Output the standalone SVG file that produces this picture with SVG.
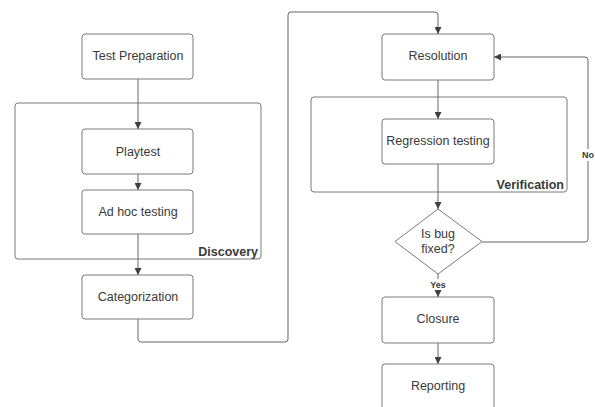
<svg xmlns="http://www.w3.org/2000/svg" width="595" height="407" viewBox="0 0 595 407">
<defs>
<style>
.box{fill:#fff;stroke:#7a7a7a;stroke-width:1}
.grp{fill:none;stroke:#7a7a7a;stroke-width:1}
.t{font-family:"Liberation Sans",Arial,sans-serif;font-size:12.5px;fill:#3a3a3a;text-anchor:middle}
.b{font-family:"Liberation Sans",Arial,sans-serif;font-size:12.5px;font-weight:bold;fill:#3a3a3a;text-anchor:end}
.s{font-family:"Liberation Sans",Arial,sans-serif;font-size:9px;font-weight:bold;fill:#3a3a3a;text-anchor:middle}
.c{fill:none;stroke:#666;stroke-width:1}
</style>
<marker id="ah" viewBox="0 0 10 10" refX="10" refY="5" markerWidth="7" markerHeight="7" orient="auto" markerUnits="userSpaceOnUse">
<path d="M0,0 L10,5 L0,10 z" fill="#3a3f4a"/>
</marker>
</defs>
<rect width="595" height="407" fill="#fff"/>
<g id="discovery"><rect class="grp" x="15" y="103" width="246" height="156" rx="3"/><text class="b" x="258" y="256">Discovery</text></g>
<g id="verification"><rect class="grp" x="311" y="97" width="256" height="95" rx="3"/><text class="b" x="564" y="189">Verification</text></g>
<g id="connectors">
<path class="c" d="M138,79 V129" marker-end="url(#ah)"/>
<path class="c" d="M138,174 V190" marker-end="url(#ah)"/>
<path class="c" d="M138,234 V275" marker-end="url(#ah)"/>
<path class="c" d="M138,319 V339 Q138,342 141,342 H285 Q288,342 288,339 V15 Q288,12 291,12 H435 Q438,12 438,15 V34" marker-end="url(#ah)"/>
<path class="c" d="M438,80 V119" marker-end="url(#ah)"/>
<path class="c" d="M438,164 V209" marker-end="url(#ah)"/>
<path class="c" d="M482,242 H585 Q588,242 588,239 V60 Q588,57 585,57 H494" marker-end="url(#ah)"/>
<path class="c" d="M438,274 V297" marker-end="url(#ah)"/>
<path class="c" d="M438,343 V364" marker-end="url(#ah)"/>
<rect x="426" y="279" width="24" height="11" fill="#fff"/>
<text class="s" x="438" y="288">Yes</text>
<rect x="580" y="149" width="15" height="12" fill="#fff"/>
<text class="s" x="588" y="158">No</text>
</g>
<g id="test-preparation"><rect class="box" x="82" y="34" width="111" height="45" rx="3"/><text class="t" x="138" y="60">Test Preparation</text></g>
<g id="playtest"><rect class="box" x="82" y="129" width="111" height="45" rx="3"/><text class="t" x="138" y="156">Playtest</text></g>
<g id="ad-hoc-testing"><rect class="box" x="82" y="190" width="111" height="44" rx="3"/><text class="t" x="138" y="216">Ad hoc testing</text></g>
<g id="categorization"><rect class="box" x="82" y="275" width="111" height="44" rx="3"/><text class="t" x="138" y="301">Categorization</text></g>
<g id="resolution"><rect class="box" x="382" y="34" width="112" height="46" rx="3"/><text class="t" x="438" y="60">Resolution</text></g>
<g id="regression-testing"><rect class="box" x="382" y="119" width="112" height="45" rx="3"/><text class="t" x="438" y="145">Regression testing</text></g>
<g id="is-bug-fixed"><path class="box" d="M438,209 L482,241.5 L438,274 L395,241.5 Z"/><text class="t" x="438" y="238">Is bug</text><text class="t" x="438" y="253">fixed?</text></g>
<g id="closure"><rect class="box" x="382" y="297" width="112" height="46" rx="3"/><text class="t" x="438" y="323">Closure</text></g>
<g id="reporting"><rect class="box" x="382" y="364" width="112" height="50" rx="3"/><text class="t" x="438" y="390">Reporting</text></g>
</svg>
